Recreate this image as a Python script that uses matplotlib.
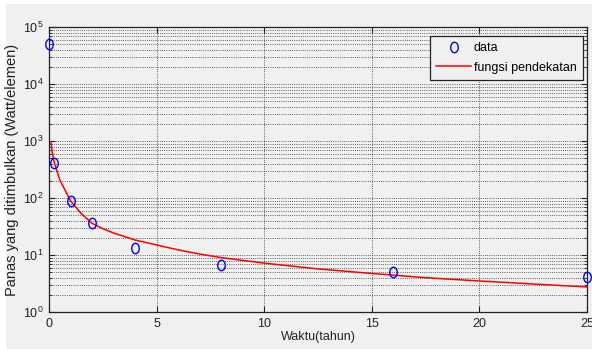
import matplotlib
matplotlib.use("Agg")
import matplotlib.pyplot as plt
from matplotlib.patches import Rectangle
from matplotlib.path import Path
import numpy as np

plt.rcParams['font.family'] = ['Liberation Sans', 'DejaVu Sans']
plt.rcParams['mathtext.fontset'] = 'custom'
plt.rcParams['mathtext.rm'] = 'Liberation Sans'
plt.rcParams['mathtext.it'] = 'Liberation Sans'

# data
time_data = [0, 0.25, 1, 2, 4, 8, 16, 25]
heat_data = [5.0e4, 410, 87, 36, 13.3, 6.7, 5.0, 4.1]

fit_time = [0.09, 0.15, 0.25, 0.5, 1, 1.5, 2, 2.5, 3, 4, 5, 6, 7, 8, 10,
            12.5, 15, 17.5, 20, 22.5, 25]
fit_heat = [960, 626, 410, 208, 89, 53, 36, 29, 24.3, 18.3, 15.0, 12.3, 10.4,
            9.0, 7.2, 5.7, 4.75, 4.0, 3.5, 3.1, 2.75]

x_ticks = [0, 5, 10, 15, 20, 25]

W, H = 592, 360
fig = plt.figure(figsize=(W / 100, H / 100), dpi=100, facecolor='white')
bg = '#f0f0f0'
fig.patches.append(Rectangle((6 / W, (H - 349) / H), (W - 6) / W, (349 - 4) / H,
                             transform=fig.transFigure, facecolor=bg,
                             edgecolor='none', zorder=-10))

ax = fig.add_axes([49 / W, (H - 312) / H, (587 - 49) / W, (312 - 27) / H])
ax.set_facecolor(bg)

# elliptical marker (taller than wide)
circ = Path.unit_circle()
ell = Path(circ.vertices * np.array([0.72, 1.0]), circ.codes)

ax.plot(time_data, heat_data, linestyle='none', marker=ell, markersize=7.5,
        markerfacecolor='none', markeredgecolor='#0000ff', markeredgewidth=1.0,
        label='data', zorder=4, clip_on=False)
ax.plot(fit_time, fit_heat, color='#ff0000', lw=1.1, label='fungsi pendekatan', zorder=3)

ax.set_yscale('log')
ax.set_xlim(0, 25)
ax.set_ylim(1, 1e5)
ax.set_xticks(x_ticks)
ax.set_xticklabels([str(t) for t in x_ticks])

grid_kw = dict(color='#333333', linestyle=(0, (1, 1.6)), linewidth=0.6)
ax.grid(True, which='major', axis='both', **grid_kw)
ax.grid(True, which='minor', axis='y', **grid_kw)
ax.set_axisbelow(True)

ax.tick_params(which='both', direction='in', top=True, right=True,
               labelsize=9, colors='#222222', pad=4)
ax.tick_params(which='major', length=4)
ax.tick_params(which='minor', length=2.5)
ax.minorticks_on()
ax.xaxis.set_minor_locator(matplotlib.ticker.NullLocator())
for s in ax.spines.values():
    s.set_color('#222222')
    s.set_linewidth(0.9)

ax.set_xlabel('Waktu(tahun)', fontsize=9, color='#222222', labelpad=1)
ax.set_ylabel('Panas yang ditimbulkan (Watt/elemen)', fontsize=10.5,
              color='#222222', labelpad=3)

leg = ax.legend(loc='upper right', bbox_to_anchor=(583 / W, (H - 36) / H),
                bbox_transform=fig.transFigure, borderaxespad=0, fontsize=9,
                fancybox=False, frameon=True, handlelength=2.8,
                handletextpad=0.2, borderpad=0.5, labelspacing=0.6)
leg.get_frame().set_edgecolor('#222222')
leg.get_frame().set_facecolor(bg)
leg.get_frame().set_linewidth(0.9)
leg.get_frame().set_alpha(1)

fig.savefig('out.png', dpi=100, facecolor=fig.get_facecolor())
